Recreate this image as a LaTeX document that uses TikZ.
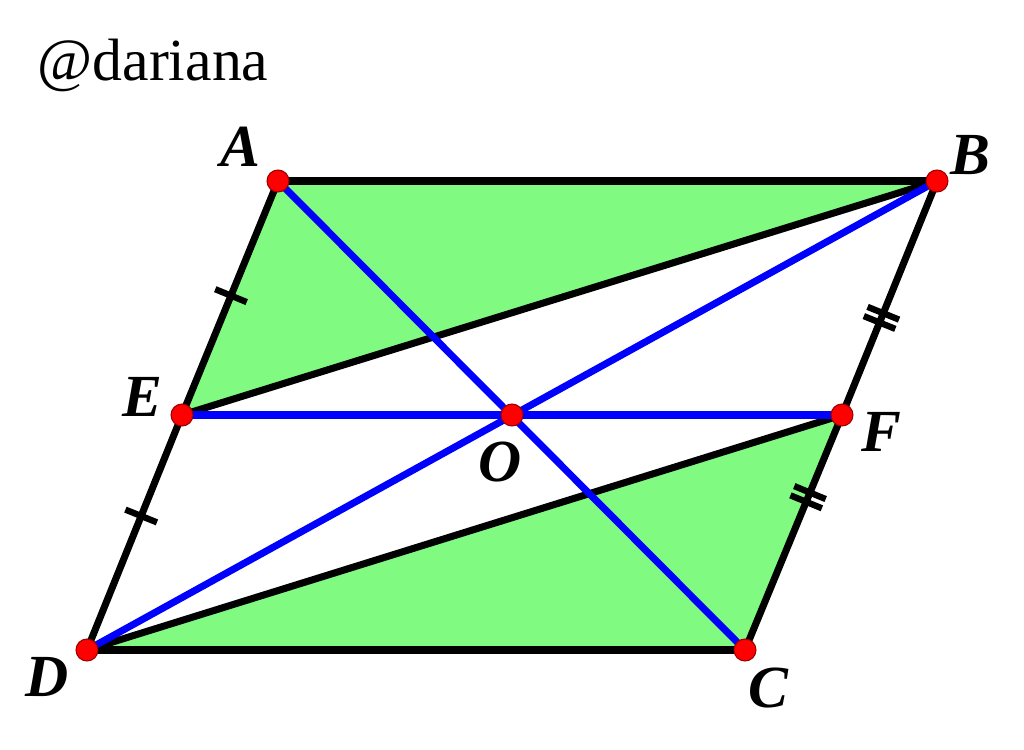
\documentclass[tikz,border=0pt]{standalone}
\usepackage{fontspec}
\setmainfont{Liberation Serif}
\usetikzlibrary{decorations.markings}

\definecolor{areagreen}{RGB}{128,250,128}
\tikzset{
  side/.style={line width=2pt, black},
  diag/.style={line width=2pt, blue},
  pt/.style={circle, fill=red, draw=red!60!black, line width=0.3pt, inner sep=0pt, minimum size=0.22cm},
  lbl/.style={font=\fontsize{17}{20}\selectfont\bfseries\itshape},
  onetick/.style={postaction={decorate}, decoration={markings,
    mark=at position #1 with {\draw[line width=1.8pt] (0,-0.17) -- (0,0.17);}}},
  twotick/.style={postaction={decorate}, decoration={markings,
    mark=at position #1 with {\draw[line width=1.8pt] (-0.05,-0.17) -- (-0.05,0.17)
      (0.05,-0.17) -- (0.05,0.17);}}}
}

\begin{document}
\begin{tikzpicture}
  \useasboundingbox (0,0) rectangle (10.24,7.49);

  %% points
  \coordinate (A) at (2.78,5.68);
  \coordinate (B) at (9.37,5.68);
  \coordinate (C) at (7.45,0.99);
  \coordinate (D) at (0.87,0.99);
  \coordinate (E) at (1.82,3.34);
  \coordinate (F) at (8.42,3.34);
  \coordinate (O) at (5.12,3.34);

  %% shaded triangles
  \fill[areagreen] (A) -- (B) -- (E) -- cycle;
  \fill[areagreen] (D) -- (F) -- (C) -- cycle;

  %% sides
  \draw[side] (A) -- (B);
  \draw[side] (D) -- (C);
  \draw[side, onetick=0.49] (A) -- (E);
  \draw[side, onetick=0.43] (E) -- (D);
  \draw[side, twotick=0.585] (B) -- (F);
  \draw[side, twotick=0.35] (F) -- (C);
  \draw[side] (E) -- (B);
  \draw[side] (D) -- (F);

  %% blue lines
  \draw[diag] (A) -- (C);
  \draw[diag] (B) -- (D);
  \draw[diag] (E) -- (F);

  %% dots
  \foreach \p in {A,B,C,D,E,F,O}
    \node[pt] (\p dot) at (\p) {};

  %% labels
  \node[lbl] (labA) at (2.40,6.02) {A};
  \node[lbl] (labB) at (9.70,5.94) {B};
  \node[lbl] (labC) at (7.68,0.61) {C};
  \node[lbl] (labD) at (0.47,0.72) {D};
  \node[lbl] (labE) at (1.42,3.52) {E};
  \node[lbl] (labF) at (8.81,3.17) {F};
  \node[lbl] (labO) at (5.00,2.87) {O};

  \node[font=\fontsize{17}{20}\selectfont] (tag) at (1.53,6.84) {@dariana};

\end{tikzpicture}
\end{document}
